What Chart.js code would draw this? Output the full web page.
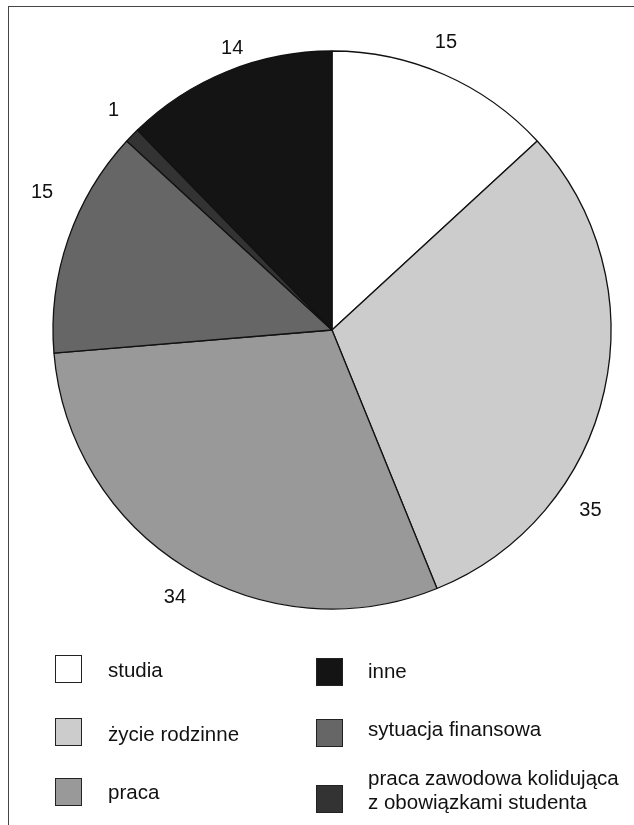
<!DOCTYPE html>
<html>
<head>
<meta charset="utf-8">
<script src="https://cdn.jsdelivr.net/npm/chart.js@4"></script>
<style>
  html, body { margin: 0; padding: 0; background: #fff; }
  #wrap { position: relative; width: 634px; height: 825px; overflow: hidden; font-family: "Liberation Sans", Arial, sans-serif; }
  #frame { position: absolute; left: 8px; top: 6px; right: -4px; bottom: -4px; border-top: 1.5px solid #444; border-left: 1.5px solid #444; }
  canvas { position: absolute; left: 0; top: 0; }
  .item { position: absolute; font-size: 20.5px; color: #111; line-height: 24px; white-space: nowrap; }
  .item.two { line-height: 23.5px; }
  .box { position: absolute; width: 25px; height: 26px; border: 1.3px solid #222; box-sizing: content-box; }
</style>
</head>
<body>
<div id="wrap">
  <div id="frame"></div>
  <canvas id="c" width="634" height="825"></canvas>
  <div id="legend"></div>
</div>
<script>
// Reasons and counts
const categories = ['studia', 'życie rodzinne', 'praca', 'sytuacja finansowa', 'praca zawodowa kolidująca\nz obowiązkami studenta', 'inne'];
const values = [15, 35, 34, 15, 1, 14];
const sliceColors = ['#ffffff', '#cccccc', '#999999', '#666666', '#333333', '#141414'];

// Value labels outside the pie: angle shift (degrees) and distance factor per slice
const labelShift = [-2.1, 22.3, -1.2, 6.4, 0.9, 2.6];
const labelDist = [1.11, 1.13, 1.113, 1.15, 1.11, 1.072];

const outerLabels = {
  id: 'outerLabels',
  afterDatasetsDraw(chart) {
    const ctx = chart.ctx;
    const meta = chart.getDatasetMeta(0);
    ctx.save();
    ctx.font = '20px "Liberation Sans", Arial, sans-serif';
    ctx.fillStyle = '#111';
    ctx.textAlign = 'center';
    ctx.textBaseline = 'middle';
    meta.data.forEach((arc, i) => {
      const p = arc.getProps(['x', 'y', 'startAngle', 'endAngle', 'outerRadius'], true);
      const a = (p.startAngle + p.endAngle) / 2 + labelShift[i] * Math.PI / 180;
      const r = p.outerRadius * labelDist[i];
      ctx.fillText(String(values[i]), p.x + Math.cos(a) * r, p.y + Math.sin(a) * r);
    });
    ctx.restore();
  }
};

new Chart(document.getElementById('c'), {
  type: 'pie',
  data: {
    labels: categories,
    datasets: [{
      data: values,
      backgroundColor: sliceColors,
      borderColor: '#111',
      borderWidth: 1.3,
      radius: 279,
      hoverOffset: 0
    }]
  },
  options: {
    responsive: false,
    animation: false,
    events: [],
    layout: { padding: { left: 53, right: 23, top: 51, bottom: 216 } },
    plugins: { legend: { display: false }, tooltip: { enabled: false } }
  },
  plugins: [outerLabels]
});

// Legend in two columns
const legendPos = [
  { bx: 55, by: 655, tx: 108, ty: 658 },
  { bx: 55, by: 718, tx: 108, ty: 722 },
  { bx: 55, by: 778, tx: 108, ty: 780 },
  { bx: 316, by: 719, tx: 368, ty: 717 },
  { bx: 316, by: 785, tx: 368, ty: 766 },
  { bx: 316, by: 658, tx: 368, ty: 659 }
];
const legend = document.getElementById('legend');
categories.forEach((name, i) => {
  const p = legendPos[i];
  const box = document.createElement('div');
  box.className = 'box';
  box.style.left = p.bx + 'px';
  box.style.top = p.by + 'px';
  box.style.background = sliceColors[i];
  legend.appendChild(box);
  const lines = name.split('\n');
  const t = document.createElement('div');
  t.className = lines.length > 1 ? 'item two' : 'item';
  t.style.left = p.tx + 'px';
  t.style.top = p.ty + 'px';
  t.innerHTML = lines.join('<br>');
  legend.appendChild(t);
});
</script>
</body>
</html>
